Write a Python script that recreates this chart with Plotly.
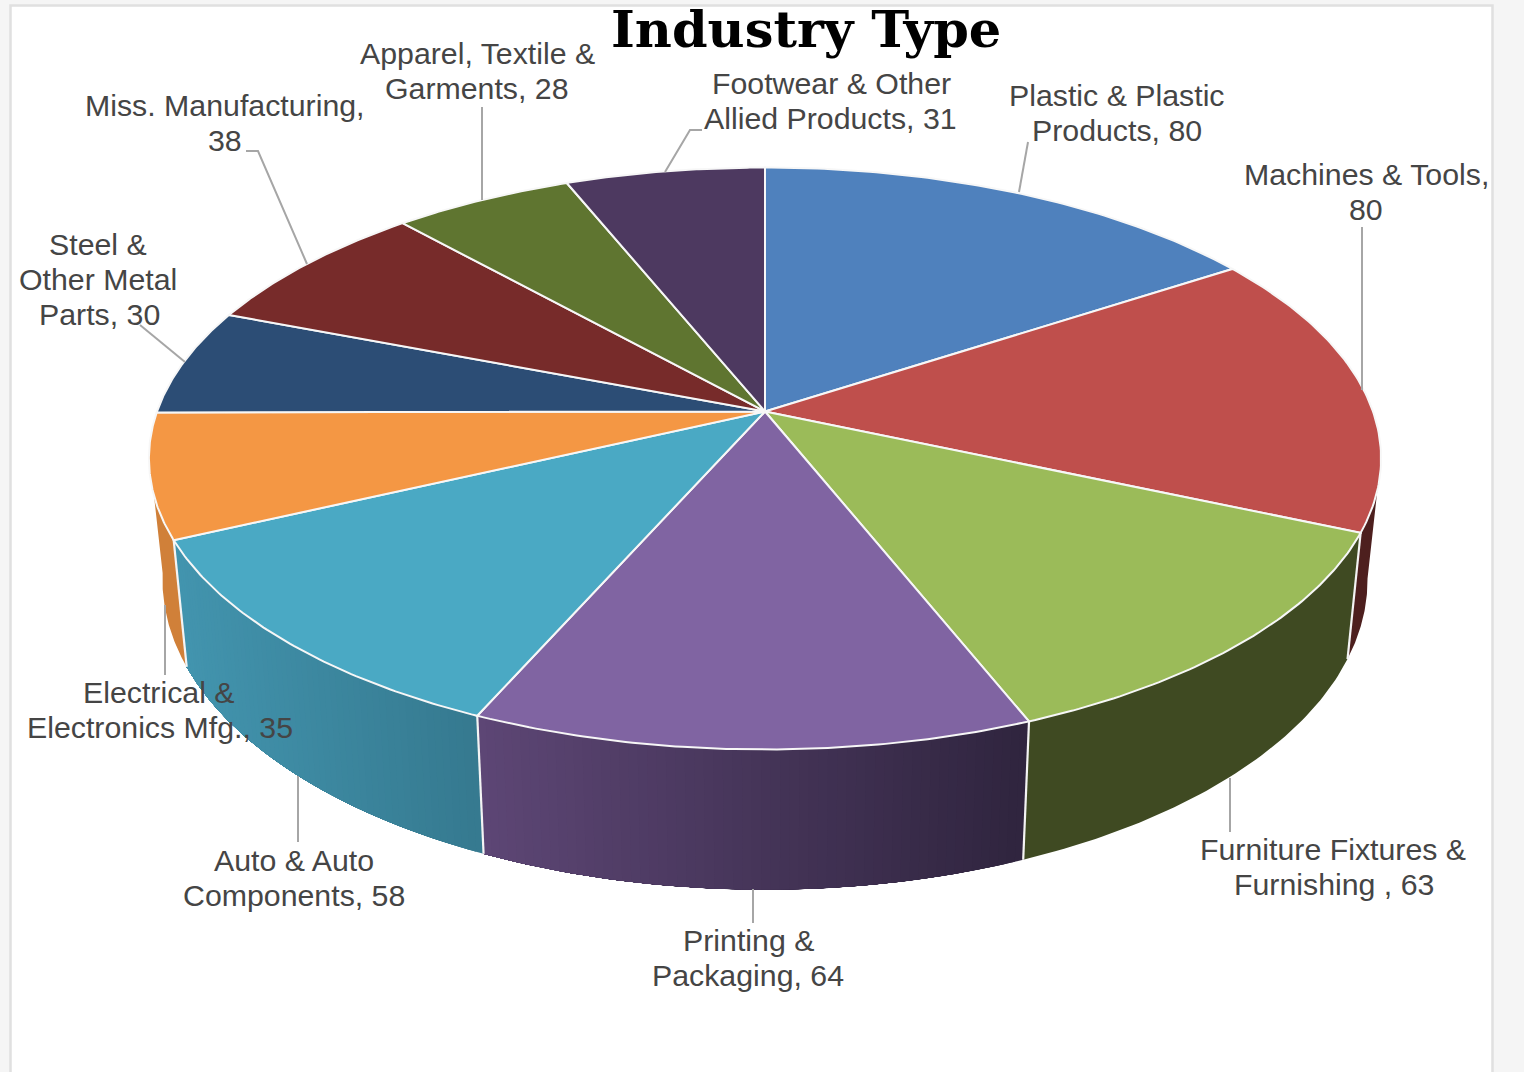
import numpy as np
import plotly.graph_objects as go

# ---- data ----
categories = ["Plastic & Plastic Products", "Machines & Tools", "Furniture Fixtures & Furnishing",
              "Printing & Packaging", "Auto & Auto Components", "Electrical & Electronics Mfg.",
              "Steel & Other Metal Parts", "Miss. Manufacturing", "Apparel, Textile & Garments",
              "Footwear & Other Allied Products"]
values = [80, 80, 63, 64, 58, 35, 30, 38, 28, 31]
top_colors = ["#4f81bd", "#bf4f4c", "#9bbb59", "#8064a2", "#4aa9c4",
              "#f49744", "#2c4d75", "#772b2a", "#5f7530", "#4d3960"]
# wall colours at the left and right end of each visible wall
wall_colors = {1: ("#4d1f1e", "#4d1f1e"), 2: ("#3f4a22", "#3f4a22"), 3: ("#5e4776", "#30253f"),
               4: ("#4395af", "#367a90"), 5: ("#d08039", "#d08039")}

# ---- label layout ----
label_lines = [
    ("Apparel, Textile &", 477, 53), ("Garments, 28", 477, 88),
    ("Miss. Manufacturing,", 225, 105), ("38", 225, 140),
    ("Steel &", 98, 244), ("Other Metal", 98, 279), ("Parts, 30", 99, 314),
    ("Footwear & Other", 831, 83), ("Allied Products, 31", 830, 118),
    ("Plastic & Plastic", 1117, 95), ("Products, 80", 1117, 130),
    ("Machines & Tools,", 1366, 174.5), ("80", 1366, 209.5),
    ("Furniture Fixtures &", 1333, 849), ("Furnishing , 63", 1334, 884),
    ("Printing &", 748, 940), ("Packaging, 64", 748, 975),
    ("Auto & Auto", 294, 860), ("Components, 58", 294, 895),
    ("Electrical &", 159, 692), ("Electronics Mfg., 35", 160, 727),
]
leaders = [
    ([1028, 1019], [142, 192]), ([1362, 1362], [227, 390]), ([1230, 1230], [778, 832]),
    ([753, 753], [889, 923]), ([298, 298], [776, 842]), ([165, 165], [605, 675]),
    ([140, 185], [325, 362]), ([246, 258, 307], [151, 151, 264]),
    ([482, 482], [107, 200]), ([702, 690, 665], [130, 130, 172]),
]

# ---- perspective model of the disc ----
CX, CY, R, A, K = 765.0, 411.5, 608.0, 283.4, 0.1615


def rim(theta):
    """Top-face rim point for clockwise angle theta measured from 12 o'clock."""
    u, v = np.sin(theta), -np.cos(theta)
    s = 1 / (1 - K * v)
    return CX + R * u * s, CY + A * v * s


def base(theta):
    x, y = rim(theta)
    return CX + 0.978 * (x - CX), 530 + 1.064 * (y - CY)


def hex2rgb(h):
    return np.array([int(h[i:i + 2], 16) for i in (1, 3, 5)], float)


def mix(c1, c2, t):
    r = hex2rgb(c1) * (1 - t) + hex2rgb(c2) * t
    return "rgb(%d,%d,%d)" % tuple(r)


total = sum(values)
edges = np.concatenate([[0], np.cumsum(values)]) / total * 2 * np.pi

fig = go.Figure()

# side walls, painted back to front; each gradient step covers the rest of its wall, so no seams
wall_limits = {1: (np.radians(99), edges[2]), 2: (edges[2], edges[3]), 3: (edges[3], edges[4]),
               4: (edges[4], edges[5]), 5: (edges[5], np.radians(262))}
for i in [1, 5, 2, 4, 3]:
    a0, a1 = wall_limits[i]
    left_c, right_c = wall_colors[i]
    x_all0, x_all1 = rim(a0)[0], rim(a1)[0]
    n = 60 if right_c != left_c else 1
    cuts = np.linspace(a0, a1, n + 1)
    for j in range(n):
        t = np.linspace(cuts[j], a1, 60)
        xt, yt = rim(t)
        xb, yb = base(t[::-1])
        frac = (rim(cuts[j])[0] - min(x_all0, x_all1)) / abs(x_all1 - x_all0)
        col = mix(left_c, right_c, float(np.clip(frac, 0, 1)))
        fig.add_trace(go.Scatter(x=np.r_[xt, xb], y=np.r_[yt, yb], mode="lines", fill="toself",
                                 fillcolor=col, line=dict(color=col, width=0),
                                 hoverinfo="skip", showlegend=False))

# white seams between walls
for e in edges[[2, 3, 4, 5]]:
    x0, y0 = rim(e)
    x1, y1 = base(e)
    fig.add_trace(go.Scatter(x=[x0, x1], y=[y0, y1], mode="lines",
                             line=dict(color="#f4f4f4", width=2.2), hoverinfo="skip", showlegend=False))

# top-face slices
for i, (name, val, col) in enumerate(zip(categories, values, top_colors)):
    t = np.linspace(edges[i], edges[i + 1], 80)
    xs, ys = rim(t)
    fig.add_trace(go.Scatter(x=np.r_[CX, xs, CX], y=np.r_[CY, ys, CY], mode="lines", fill="toself",
                             fillcolor=col, line=dict(color="#f7f7f7", width=2),
                             name=name, text=f"{name}: {val}", hoverinfo="text", showlegend=False))

# leader lines
for lx, ly in leaders:
    fig.add_trace(go.Scatter(x=lx, y=ly, mode="lines", line=dict(color="#a6a6a6", width=2),
                             hoverinfo="skip", showlegend=False))

annotations = [dict(x=x, y=y, text=t, showarrow=False, xanchor="center", yanchor="middle",
                    font=dict(family="Liberation Sans", size=30.3, color="#454545"))
               for t, x, y in label_lines]
annotations.append(dict(x=806, y=29, text="<b>Industry Type</b>", showarrow=False,
                        xanchor="center", yanchor="middle",
                        font=dict(family="DejaVu Serif", size=51, color="#000000")))

fig.update_layout(
    width=1524, height=1072, autosize=False,
    margin=dict(l=0, r=0, t=0, b=0),
    paper_bgcolor="#f5f5f5", plot_bgcolor="#f5f5f5",
    xaxis=dict(range=[0, 1524], visible=False, fixedrange=True),
    yaxis=dict(range=[1072, 0], visible=False, fixedrange=True),
    annotations=annotations,
    shapes=[dict(type="rect", layer="below", x0=10.5, x1=1492.5, y0=5.5, y1=1090,
                 fillcolor="#ffffff", line=dict(color="#e0e0e0", width=2.5))],
)
fig.write_html("out.html", config={"displayModeBar": False},
               post_script="document.body.style.margin='0';document.body.style.overflow='hidden';")
